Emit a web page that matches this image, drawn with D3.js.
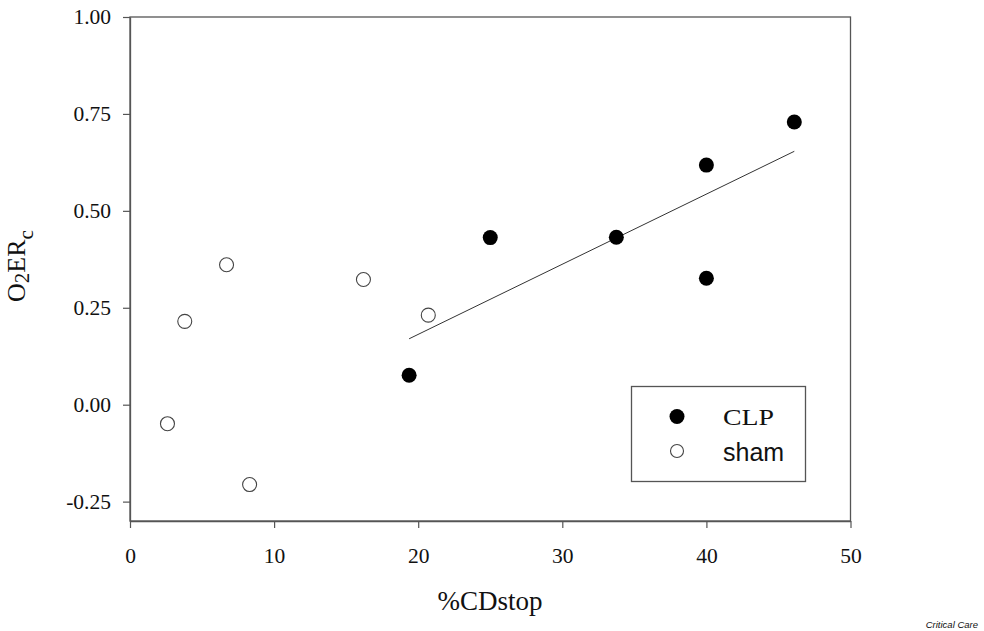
<!DOCTYPE html>
<html><head><meta charset="utf-8">
<script src="https://d3js.org/d3.v7.min.js"></script>
<style>body{margin:0;background:#fff}svg{display:block}</style>
</head><body>
<svg id="chart" width="984" height="631"></svg>
<script>
// Data
const clpX = [19.37, 25.0, 33.75, 40.0, 40.0, 46.1];
const clpY = [0.076, 0.431, 0.432, 0.618, 0.326, 0.729];
const shamX = [2.6, 3.8, 6.7, 8.3, 16.2, 20.7];
const shamY = [-0.049, 0.215, 0.361, -0.206, 0.323, 0.231];
const xTicks = [0, 10, 20, 30, 40, 50];
const yTicks = [-0.25, 0.00, 0.25, 0.50, 0.75, 1.00];
const legendLabels = ["CLP", "sham"];

const svg = d3.select("#chart");
const x = d3.scaleLinear().domain([0, 50]).range([130, 850.5]);
const y = d3.scaleLinear().domain([-0.30, 1.00]).range([521, 17]);
const axisColor = "#555";

// frame
svg.append("rect").attr("x", x(0)).attr("y", y(1)).attr("width", x(50) - x(0)).attr("height", y(-0.30) - y(1))
  .attr("fill", "none").attr("stroke", axisColor).attr("stroke-width", 1.3);

const xAxis = svg.append("g").attr("transform", `translate(0,${y(-0.30)})`)
  .call(d3.axisBottom(x).tickValues(xTicks).tickSizeOuter(0).tickSizeInner(7).tickPadding(20).tickFormat(d3.format("d")));
const yAxis = svg.append("g").attr("transform", `translate(${x(0)},0)`)
  .call(d3.axisLeft(y).tickValues(yTicks).tickSizeOuter(0).tickSizeInner(7).tickPadding(12)
    .tickFormat(d => d3.format(".2f")(d).replace("\u2212", "-")));
[xAxis, yAxis].forEach(g => {
  g.select(".domain").attr("stroke", axisColor).attr("stroke-width", 1.3);
  g.selectAll(".tick line").attr("stroke", axisColor).attr("stroke-width", 1.2);
  g.selectAll(".tick text").attr("font-family", "'Liberation Serif','Times New Roman',serif")
    .attr("font-size", 21.5).attr("fill", "#111");
});

// regression line (least squares on CLP data)
const mx = d3.mean(clpX), my = d3.mean(clpY);
const slope = d3.sum(clpX.map((v, i) => (v - mx) * (clpY[i] - my))) / d3.sum(clpX.map(v => (v - mx) ** 2));
const icpt = my - slope * mx;
const fx = d3.extent(clpX);
svg.append("line").attr("x1", x(fx[0])).attr("y1", y(icpt + slope * fx[0]))
  .attr("x2", x(fx[1])).attr("y2", y(icpt + slope * fx[1]))
  .attr("stroke", "#333").attr("stroke-width", 1);

// points
svg.append("g").selectAll("circle").data(shamX.map((v, i) => [v, shamY[i]])).join("circle")
  .attr("cx", d => x(d[0])).attr("cy", d => y(d[1])).attr("r", 7)
  .attr("fill", "#fff").attr("stroke", "#444").attr("stroke-width", 1.1);
svg.append("g").selectAll("circle").data(clpX.map((v, i) => [v, clpY[i]])).join("circle")
  .attr("cx", d => x(d[0])).attr("cy", d => y(d[1])).attr("r", 7.5)
  .attr("fill", "#000");

// legend
const lg = svg.append("g");
lg.append("rect").attr("x", 631.5).attr("y", 386.5).attr("width", 174).attr("height", 95)
  .attr("fill", "#fff").attr("stroke", axisColor).attr("stroke-width", 1.3);
lg.append("circle").attr("cx", 677).attr("cy", 416.5).attr("r", 7.5).attr("fill", "#000");
lg.append("circle").attr("cx", 677).attr("cy", 451).attr("r", 6.5).attr("fill", "#fff").attr("stroke", "#444").attr("stroke-width", 1.1);
lg.append("text").attr("x", 723).attr("y", 425).text(legendLabels[0])
  .attr("font-family", "'Liberation Serif','Times New Roman',serif").attr("font-size", 23).attr("fill", "#111")
  .attr("textLength", 51).attr("lengthAdjust", "spacingAndGlyphs");
lg.append("text").attr("x", 723).attr("y", 461).text(legendLabels[1])
  .attr("font-family", "'Liberation Sans',Arial,sans-serif").attr("font-size", 25).attr("fill", "#111");

// axis titles
svg.append("text").attr("x", 490).attr("y", 610).attr("text-anchor", "middle")
  .attr("font-family", "'Liberation Serif','Times New Roman',serif").attr("font-size", 27).attr("fill", "#111")
  .text("%CDstop");
const yt = svg.append("text").attr("transform", "translate(25,266) rotate(-90)").attr("text-anchor", "middle")
  .attr("font-family", "'Liberation Serif','Times New Roman',serif").attr("font-size", 26).attr("fill", "#111");
yt.append("tspan").text("O");
yt.append("tspan").attr("font-size", 21).attr("dy", 4).text("2");
yt.append("tspan").attr("dy", -4).text("ER");
yt.append("tspan").attr("font-size", 21).attr("dy", 8).text("c");

// source note
svg.append("text").attr("x", 978).attr("y", 628).attr("text-anchor", "end")
  .attr("font-family", "'Liberation Sans',Arial,sans-serif").attr("font-style", "italic").attr("font-size", 9.5)
  .attr("fill", "#111").text("Critical Care");
</script>
</body></html>
